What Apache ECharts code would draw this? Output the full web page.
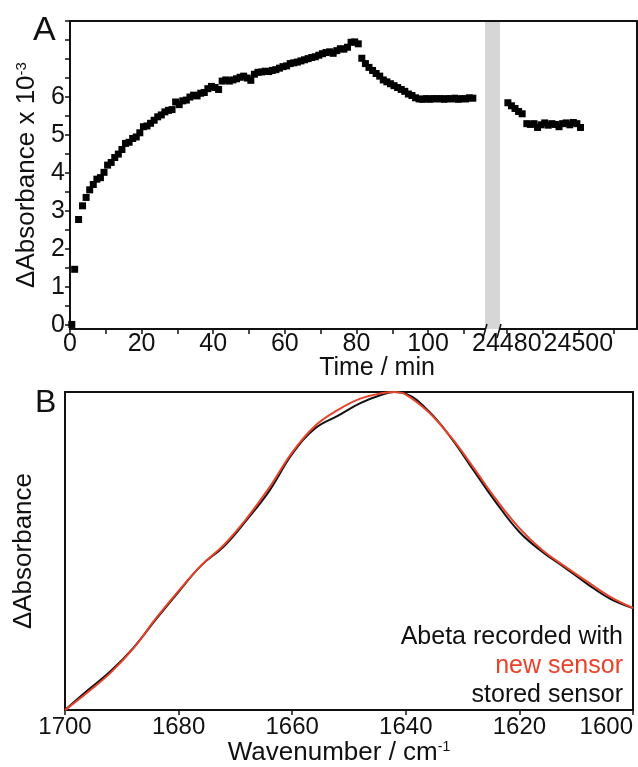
<!DOCTYPE html>
<html>
<head>
<meta charset="utf-8">
<title>Abeta sensor</title>
<script src="https://cdn.jsdelivr.net/npm/echarts@6.0.0/dist/echarts.min.js"></script>
<style>
html,body{margin:0;padding:0;background:#fff;}
#main{width:638px;height:767px;}
</style>
</head>
<body>
<div id="main"></div>
<script>
// panel A, first part (min)
var timeA = [0.5, 1.3, 2.4, 3.5, 4.5, 5.5, 6.5, 7.5, 8.5, 9.5,
  10.5, 11.5, 12.5, 13.5, 14.5, 15.5, 16.5, 17.5, 18.5, 19.5,
  20.5, 21.5, 22.5, 23.5, 24.5, 25.5, 26.5, 27.5, 28.5, 29.5,
  30.5, 31.5, 32.5, 33.5, 34.5, 35.5, 36.5, 37.5, 38.5, 39.5,
  40.5, 41.5, 42.5, 43.5, 44.5, 45.5, 46.5, 47.5, 48.5, 49.5,
  50.5, 51.5, 52.5, 53.5, 54.5, 55.5, 56.5, 57.5, 58.5, 59.5,
  60.5, 61.5, 62.5, 63.5, 64.5, 65.5, 66.5, 67.5, 68.5, 69.5,
  70.5, 71.5, 72.5, 73.5, 74.5, 75.5, 76.5, 77.5, 78.5, 79.5,
  80.5, 81.5, 82.5, 83.5, 84.5, 85.5, 86.5, 87.5, 88.5, 89.5,
  90.5, 91.5, 92.5, 93.5, 94.5, 95.5, 96.5, 97.5, 98.5, 99.5,
  100.5, 101.5, 102.5, 103.5, 104.5, 105.5, 106.5, 107.5, 108.5, 109.5,
  110.5, 111.5, 112.5];
var absA = [0.02, 1.47, 2.78, 3.14, 3.36, 3.56, 3.70, 3.84, 3.88, 4.02,
  4.21, 4.28, 4.41, 4.50, 4.62, 4.78, 4.81, 4.91, 4.95, 5.06,
  5.22, 5.24, 5.31, 5.39, 5.48, 5.53, 5.61, 5.65, 5.67, 5.87,
  5.80, 5.90, 5.92, 6.00, 6.05, 6.03, 6.10, 6.12, 6.22, 6.28,
  6.25, 6.20, 6.42, 6.45, 6.42, 6.45, 6.48, 6.52, 6.55, 6.50,
  6.44, 6.60, 6.65, 6.66, 6.68, 6.67, 6.70, 6.72, 6.76, 6.80,
  6.82, 6.88, 6.90, 6.92, 6.95, 6.98, 7.01, 7.04, 7.06, 7.10,
  7.14, 7.17, 7.19, 7.15, 7.22, 7.27, 7.26, 7.31, 7.44, 7.45,
  7.40, 7.02, 6.88, 6.78, 6.70, 6.62, 6.55, 6.45, 6.40, 6.35,
  6.30, 6.25, 6.20, 6.15, 6.08, 6.04, 5.98, 5.95, 5.94, 5.96,
  5.94, 5.96, 5.95, 5.96, 5.94, 5.96, 5.95, 5.97, 5.94, 5.96,
  5.95, 5.98, 5.97];
// panel A, after the break
var timeA2 = [24480.3, 24481.3, 24482.3, 24483.3, 24484.3, 24485.6, 24486.6, 24487.6, 24488.6, 24489.6,
  24490.6, 24491.6, 24492.6, 24493.6, 24494.6, 24495.6, 24496.6, 24497.6, 24498.6, 24499.6, 24500.6];
var absA2 = [5.85, 5.77, 5.70, 5.62, 5.56, 5.30, 5.28, 5.30, 5.20, 5.27,
  5.32, 5.26, 5.30, 5.28, 5.22, 5.30, 5.32, 5.27, 5.33, 5.30, 5.20];

var yTicksA = [0, 0.5, 1, 1.5, 2, 2.5, 3, 3.5, 4, 4.5, 5, 5.5, 6, 6.5, 7, 7.5, 8];
var yLabelsA = [0, 1, 2, 3, 4, 5, 6];
var xTicksA = [0, 10, 20, 30, 40, 50, 60, 70, 80, 90, 100, 110];
var xLabelsA = [0, 20, 40, 60, 80, 100];
var xTicksA2 = [24480, 24490, 24500, 24510];
var xLabelsA2 = [24480, 24500];

// panel B, normalised spectra
var wavenumber = [1700, 1696, 1692, 1688, 1684, 1680, 1676, 1672, 1668, 1664, 1660, 1656, 1652, 1648,
  1644, 1642, 1640, 1636, 1632, 1628, 1624, 1620, 1616, 1612, 1608, 1604, 1600];
var newSensor = [0.0, 0.056, 0.117, 0.193, 0.288, 0.375, 0.455, 0.52, 0.603, 0.70, 0.81, 0.893, 0.943, 0.979,
  0.997, 1.0, 0.992, 0.937, 0.857, 0.76, 0.66, 0.572, 0.503, 0.452, 0.403, 0.356, 0.321];
var storedSensor = [0.0, 0.062, 0.122, 0.195, 0.285, 0.372, 0.455, 0.515, 0.598, 0.69, 0.805, 0.885, 0.925, 0.965,
  0.993, 1.0, 0.995, 0.94, 0.855, 0.752, 0.65, 0.56, 0.498, 0.448, 0.396, 0.35, 0.321];

var INK = '#111111';
var RED = '#e8432a';
var FONT = 'Liberation Sans, Arial, sans-serif';

function zip(a, b) {
  var out = [];
  for (var i = 0; i < a.length; i++) out.push([a[i], b[i]]);
  return out;
}
function plain(v) { return String(v); }

var frame = { show: true, onZero: false, lineStyle: { color: INK, width: 2 } };
var noTick = { show: false };
var tick = { show: true, length: 5, lineStyle: { color: INK, width: 1.5 } };
var label = { color: INK, fontSize: 25, fontFamily: FONT, formatter: plain,
  showMinLabel: true, showMaxLabel: true, hideOverlap: false };

// grid boxes
var gA1 = { left: 70, top: 21, width: 415, height: 308 };
var gA2 = { left: 500, top: 21, width: 137, height: 308 };
var gB = { left: 65, top: 392, width: 568, height: 321 };

var myChart = echarts.init(document.getElementById('main'));
var option = {
  backgroundColor: '#ffffff',
  animation: false,
  textStyle: { fontFamily: FONT },
  grid: [gA1, gA2, gB],
  xAxis: [
    { gridIndex: 0, type: 'value', min: 0, max: 115.9, axisLine: frame, splitLine: { show: false },
      axisTick: Object.assign({ customValues: xTicksA }, tick),
      axisLabel: Object.assign({ customValues: xLabelsA, margin: 3 }, label) },
    { gridIndex: 0, type: 'value', position: 'top', min: 0, max: 115.9, axisLine: frame,
      axisTick: noTick, axisLabel: { show: false }, splitLine: { show: false } },
    { gridIndex: 1, type: 'value', min: 24478.1, max: 24516.4, axisLine: frame, splitLine: { show: false },
      axisTick: Object.assign({ customValues: xTicksA2 }, tick),
      axisLabel: Object.assign({ customValues: xLabelsA2, margin: 3 }, label) },
    { gridIndex: 1, type: 'value', position: 'top', min: 24478.1, max: 24516.4, axisLine: frame,
      axisTick: noTick, axisLabel: { show: false }, splitLine: { show: false } },
    { gridIndex: 2, type: 'value', inverse: true, min: 1600, max: 1700, interval: 20, axisLine: frame,
      splitLine: { show: false }, axisTick: tick,
      axisLabel: Object.assign({}, label, { margin: 5, fontSize: 24, alignMinLabel: 'right' }),
      name: 'Wavenumber / cm{sup|-1}', nameLocation: 'middle', nameGap: 26,
      nameTextStyle: { color: INK, fontSize: 26, fontFamily: FONT, padding: [0, 20, 0, 0],
        rich: { sup: { fontSize: 14, verticalAlign: 'top', padding: [0, 0, 10, 0] } } } },
    { gridIndex: 2, type: 'value', position: 'top', inverse: true, min: 1600, max: 1700, axisLine: frame,
      axisTick: noTick, axisLabel: { show: false }, splitLine: { show: false } }
  ],
  yAxis: [
    { gridIndex: 0, type: 'value', min: -0.1, max: 8, axisLine: frame, splitLine: { show: false },
      axisTick: Object.assign({ customValues: yTicksA }, tick),
      axisLabel: Object.assign({ customValues: yLabelsA, margin: 5 }, label),
      name: 'ΔAbsorbance x 10{sup|-3}', nameLocation: 'middle', nameGap: 29,
      nameTextStyle: { color: INK, fontSize: 26, fontFamily: FONT,
        rich: { sup: { fontSize: 15, verticalAlign: 'top', padding: [0, 0, 10, 0] } } } },
    { gridIndex: 1, type: 'value', position: 'right', min: -0.1, max: 8, axisLine: frame,
      axisTick: noTick, axisLabel: { show: false }, splitLine: { show: false } },
    { gridIndex: 2, type: 'value', min: 0, max: 1, axisLine: frame, axisTick: noTick,
      axisLabel: { show: false }, splitLine: { show: false },
      name: 'ΔAbsorbance', nameLocation: 'middle', nameGap: 28,
      nameTextStyle: { color: INK, fontSize: 26, fontFamily: FONT } },
    { gridIndex: 2, type: 'value', position: 'right', min: 0, max: 1, axisLine: frame,
      axisTick: noTick, axisLabel: { show: false }, splitLine: { show: false } }
  ],
  series: [
    { name: 'Abeta', type: 'scatter', xAxisIndex: 0, yAxisIndex: 0, symbol: 'rect', symbolSize: 7,
      itemStyle: { color: '#000', opacity: 1 }, data: zip(timeA, absA) },
    { name: 'Abeta stored', type: 'scatter', xAxisIndex: 2, yAxisIndex: 1, symbol: 'rect', symbolSize: 7,
      itemStyle: { color: '#000', opacity: 1 }, data: zip(timeA2, absA2) },
    { name: 'stored sensor', type: 'line', xAxisIndex: 4, yAxisIndex: 2, smooth: 0.4, showSymbol: false,
      lineStyle: { color: INK, width: 2 }, data: zip(wavenumber, storedSensor) },
    { name: 'new sensor', type: 'line', xAxisIndex: 4, yAxisIndex: 2, smooth: 0.4, showSymbol: false,
      lineStyle: { color: RED, width: 2 }, data: zip(wavenumber, newSensor) }
  ],
  graphic: [
    // grey band of the axis break
    { type: 'rect', z: 1, shape: { x: 485, y: 21, width: 15, height: 308 }, style: { fill: '#d6d6d6' } },
    { type: 'line', z: 5, shape: { x1: 484, y1: 21, x2: 501, y2: 21 }, style: { stroke: INK, lineWidth: 2 } },
    { type: 'line', z: 5, shape: { x1: 483, y1: 338, x2: 487, y2: 324 }, style: { stroke: INK, lineWidth: 1.5 } },
    { type: 'line', z: 5, shape: { x1: 497, y1: 338, x2: 501, y2: 324 }, style: { stroke: INK, lineWidth: 1.5 } },
    { type: 'text', left: 33, top: 14, style: { text: 'A', fontSize: 34, fontFamily: FONT, fill: INK } },
    { type: 'text', left: 35, top: 387, style: { text: 'B', fontSize: 32, fontFamily: FONT, fill: INK } },
    { type: 'text', x: 377, y: 368, style: { text: 'Time / min', fontSize: 25, fontFamily: FONT, fill: INK,
      align: 'center', verticalAlign: 'middle' } },
    { type: 'text', x: 623, y: 637, style: { text: 'Abeta recorded with', fontSize: 25, fontFamily: FONT, fill: INK,
      align: 'right', verticalAlign: 'middle' } },
    { type: 'text', x: 623, y: 666, style: { text: 'new sensor', fontSize: 25, fontFamily: FONT, fill: RED,
      align: 'right', verticalAlign: 'middle' } },
    { type: 'text', x: 623, y: 695, style: { text: 'stored sensor', fontSize: 25, fontFamily: FONT, fill: INK,
      align: 'right', verticalAlign: 'middle' } }
  ]
};
myChart.setOption(option);
</script>
</body>
</html>
